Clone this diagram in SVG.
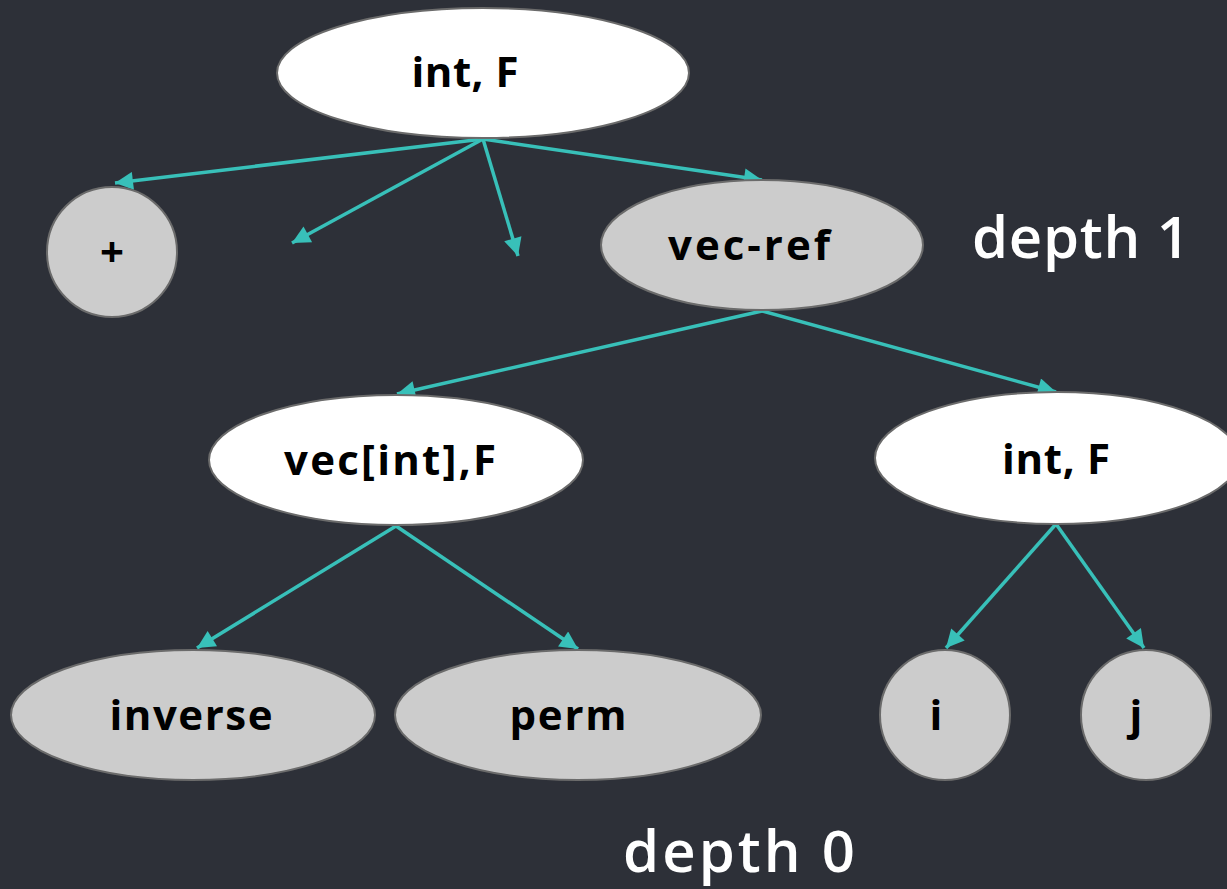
<svg xmlns="http://www.w3.org/2000/svg" width="1227" height="889" viewBox="0 0 1227 889">
<defs>
<style>
.bg{fill:#2d3038}
.w{fill:#ffffff;stroke:#6b6b6b;stroke-width:2}
.g{fill:#cccccc;stroke:#6b6b6b;stroke-width:2}
.t{font-family:"Open Sans",Lato,sans-serif;font-weight:700;font-size:42px;fill:#000;text-anchor:middle}
.d{font-family:"Open Sans",Lato,sans-serif;font-weight:600;font-size:58px;fill:#fff}
.e{stroke:#38c0b9;stroke-width:3.5;fill:none;marker-end:url(#ah)}
</style>
<marker id="ah" viewBox="0 0 10 10" refX="10" refY="5" markerUnits="userSpaceOnUse" markerWidth="23" markerHeight="18" orient="auto">
<path d="M0,0 L10,5 L0,10 z" fill="#38c0b9"/>
</marker>
</defs>
<rect class="bg" x="0" y="0" width="1227" height="889"/>
<g id="connectors">
<line class="e" x1="483" y1="139" x2="115" y2="183"/>
<line class="e" x1="483" y1="139" x2="292" y2="243"/>
<line class="e" x1="483" y1="139" x2="518" y2="256"/>
<line class="e" x1="483" y1="139" x2="762" y2="180"/>
<line class="e" x1="762" y1="311" x2="397" y2="394"/>
<line class="e" x1="762" y1="311" x2="1056" y2="392"/>
<line class="e" x1="396" y1="526" x2="197" y2="648"/>
<line class="e" x1="396" y1="526" x2="578" y2="649"/>
<line class="e" x1="1056" y1="524" x2="946" y2="648"/>
<line class="e" x1="1056" y1="524" x2="1144" y2="648"/>
</g>
<g id="n-root"><ellipse class="w" cx="483" cy="73" rx="206" ry="65"/><text class="t" x="465" y="87" textLength="107" lengthAdjust="spacing">int, F</text></g>
<g id="n-plus"><circle class="g" cx="112" cy="252" r="65"/><text class="t" x="112" y="267">+</text></g>
<g id="n-vecref"><ellipse class="g" cx="762" cy="245" rx="161" ry="65"/><text class="t" x="749" y="260" textLength="162" lengthAdjust="spacing">vec-ref</text></g>
<g id="n-vecint"><ellipse class="w" cx="396" cy="460" rx="187" ry="65"/><text class="t" x="390" y="475" textLength="212" lengthAdjust="spacing">vec[int],F</text></g>
<g id="n-intf"><ellipse class="w" cx="1057" cy="458" rx="182" ry="66"/><text class="t" x="1056" y="474" textLength="108" lengthAdjust="spacing">int, F</text></g>
<g id="n-inverse"><ellipse class="g" cx="193" cy="715" rx="182" ry="65"/><text class="t" x="191" y="730" textLength="163" lengthAdjust="spacing">inverse</text></g>
<g id="n-perm"><ellipse class="g" cx="578" cy="715" rx="183" ry="65"/><text class="t" x="568" y="730" textLength="117" lengthAdjust="spacing">perm</text></g>
<g id="n-i"><circle class="g" cx="945" cy="715" r="65"/><text class="t" x="936" y="730">i</text></g>
<g id="n-j"><circle class="g" cx="1146" cy="715" r="65"/><text class="t" x="1136" y="730">j</text></g>
<text class="d" x="972" y="258" textLength="218" lengthAdjust="spacing">depth 1</text>
<text class="d" x="623" y="872" textLength="232" lengthAdjust="spacing">depth 0</text>
</svg>
